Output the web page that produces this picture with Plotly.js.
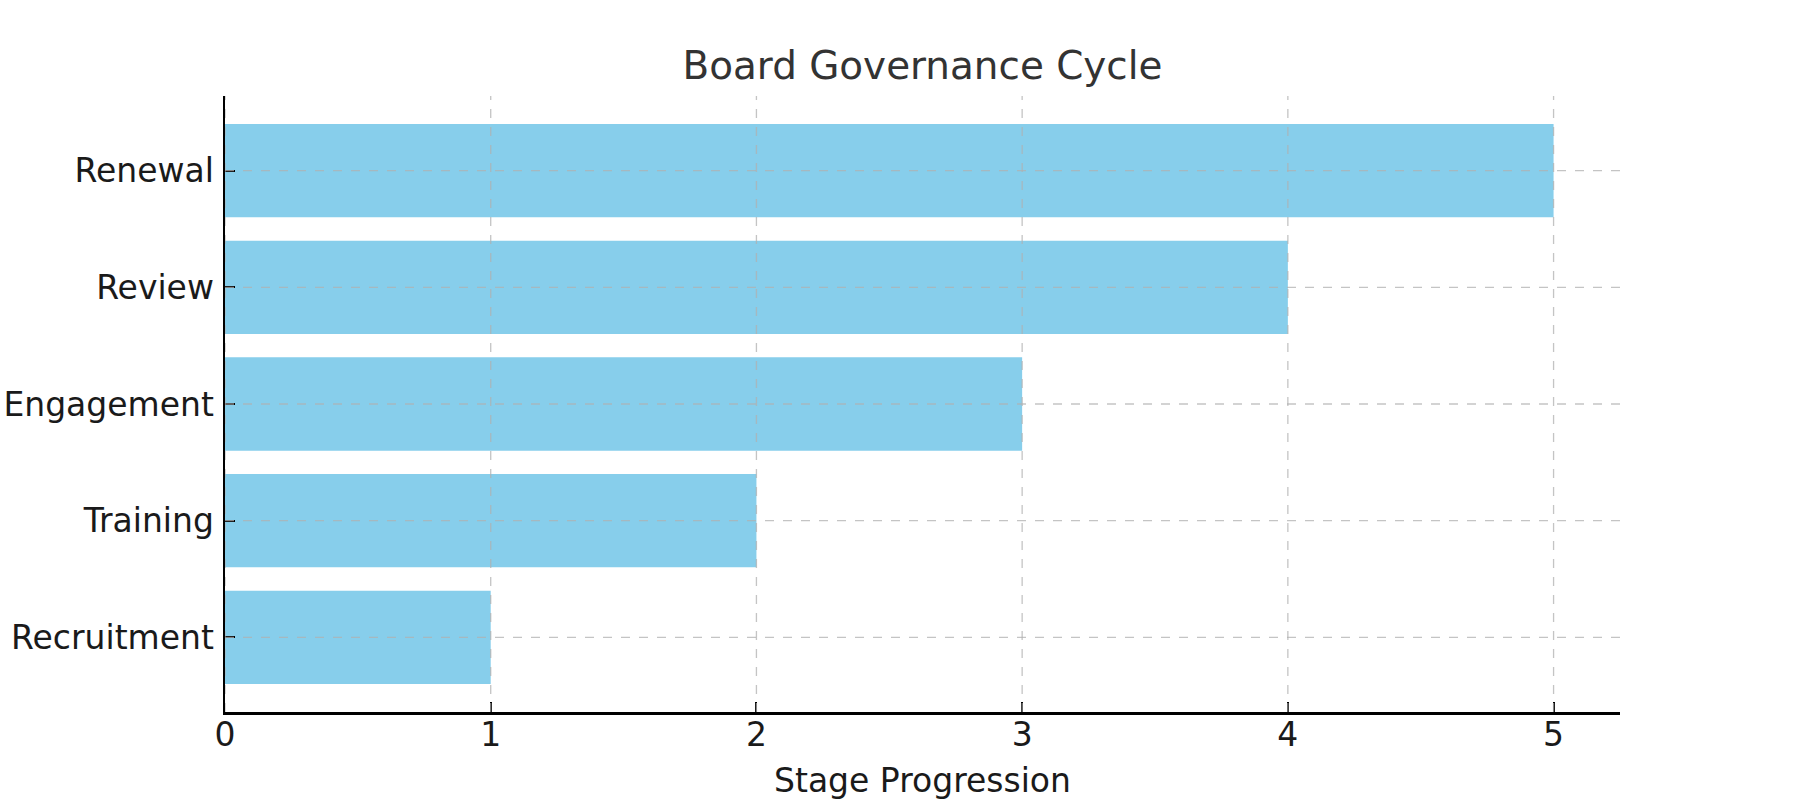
<!DOCTYPE html>
<html><head><meta charset="utf-8">
<script src="https://cdn.plot.ly/plotly-3.0.1.min.js"></script>
<style>html,body{margin:0;padding:0;background:#fff}#chart{width:1800px;height:800px}</style>
</head><body><div id="chart"></div>
<script>
const stages = ["Recruitment", "Training", "Engagement", "Review", "Renewal"];
const progression = [1, 2, 3, 4, 5];
const xTicks = [0, 1, 2, 3, 4, 5];

const gridStyle = {color: "rgba(176,176,176,0.75)", width: 1.3, dash: "dash"};
const shapes = [];
xTicks.forEach(v => {
  shapes.push({type: "line", layer: "above", xref: "x", yref: "paper", x0: v, x1: v, y0: 0, y1: 1, line: gridStyle});
});
stages.forEach((s, i) => {
  shapes.push({type: "line", layer: "above", xref: "paper", yref: "y", x0: 0, x1: 1, y0: i, y1: i, line: gridStyle});
});

const trace = {
  type: "bar", orientation: "h",
  x: progression, y: stages,
  marker: {color: "#87CEEB", line: {width: 0}},
  hoverinfo: "x+y"
};

const layout = {
  width: 1800, height: 800,
  paper_bgcolor: "#fff", plot_bgcolor: "#fff",
  margin: {l: 225, r: 180, t: 96, b: 88},
  font: {family: "DejaVu Sans", color: "#1a1a1a", size: 33},
  title: {text: "Board Governance Cycle", font: {size: 38.9, color: "#333333"}, x: 0.5125, xanchor: "center", y: 0.918, yanchor: "middle"},
  bargap: 0.2,
  showlegend: false,
  xaxis: {
    range: [0, 5.25], tickvals: xTicks, ticktext: xTicks.map(String),
    showgrid: false, zeroline: false,
    showline: true, linecolor: "#000", linewidth: 2.5,
    ticks: "inside", ticklen: 10, tickwidth: 2, tickcolor: "#000",
    tickfont: {size: 33, color: "#1a1a1a"},
    ticklabelstandoff: -8,
    title: {text: "Stage Progression", font: {size: 33, color: "#1a1a1a"}, standoff: 17},
    layer: "above traces"
  },
  yaxis: {
    type: "category", range: [-0.64, 4.64],
    showgrid: false, zeroline: false,
    showline: true, linecolor: "#000", linewidth: 2.5,
    ticks: "inside", ticklen: 10, tickwidth: 2, tickcolor: "#000",
    tickfont: {size: 33, color: "#1a1a1a"},
    ticklabelstandoff: 2,
    layer: "above traces"
  },
  shapes: shapes
};

Plotly.newPlot("chart", [trace], layout, {displayModeBar: false, staticPlot: true});
</script></body></html>
